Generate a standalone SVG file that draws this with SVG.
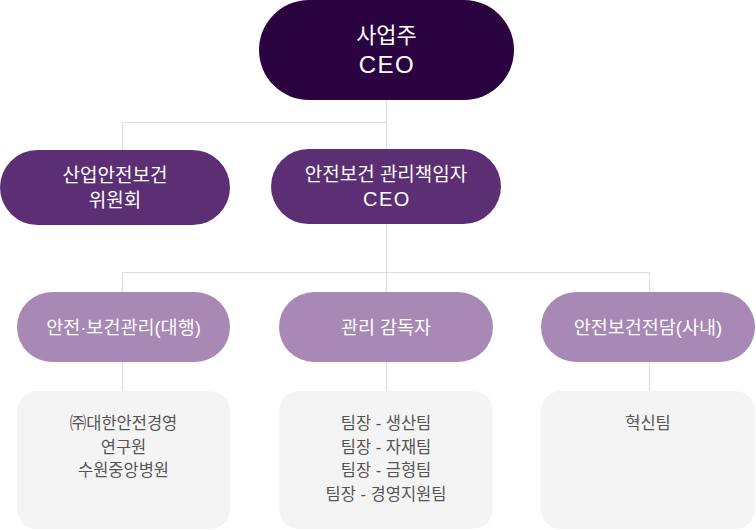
<svg xmlns="http://www.w3.org/2000/svg" width="756" height="530" viewBox="0 0 756 530">
<style>
text{font-family:"Liberation Sans","Noto Sans CJK KR",sans-serif;text-anchor:middle;dominant-baseline:central}
.t1{fill:#fff;font-size:22px}
.t2{fill:#fff;font-size:19px}
.t3{fill:#fff;font-size:18.5px}
.t4{fill:#555;font-size:16.5px}
.e1{font-size:24px;letter-spacing:1.5px}
.e2{font-size:20px;letter-spacing:1.5px}
.c{stroke:#dcdcdc;stroke-width:1;fill:none}
.n1{fill:#2a0340}
.n2{fill:#5c2f75}
.n3{fill:#a888b5}
.n4{fill:#f4f4f4}
</style>
<g id="connectors">
<path class="c" d="M386.5 100V122.5H122.5V150M386.5 122.5V149"/>
<path class="c" d="M386.5 224V272.5H122.5V292M386.5 272.5H649.5V292M386.5 272.5V292"/>
<path class="c" d="M122.5 362V391M386.5 362V391M649.5 362V391"/>
</g>
<g id="ceo">
<rect class="n1" x="259" y="0" width="255" height="100" rx="50"/>
<text class="t1" x="386.5" y="35">사업주</text>
<text class="t1 e1" x="387" y="64">CEO</text>
</g>
<g id="committee">
<rect class="n2" x="0" y="150" width="230" height="75" rx="37.5"/>
<text class="t2" x="115" y="175">산업안전보건</text>
<text class="t2" x="115" y="200">위원회</text>
</g>
<g id="manager">
<rect class="n2" x="271" y="149" width="230" height="75" rx="37.5"/>
<text class="t2" x="386" y="174">안전보건 관리책임자</text>
<text class="t2 e2" x="387" y="199">CEO</text>
</g>
<g id="agency">
<rect class="n3" x="17" y="292" width="213" height="70" rx="35"/>
<text class="t3" x="123.5" y="327">안전·보건관리(대행)</text>
</g>
<g id="supervisor">
<rect class="n3" x="279" y="292" width="214" height="70" rx="35"/>
<text class="t3" x="386" y="327">관리 감독자</text>
</g>
<g id="inhouse">
<rect class="n3" x="541" y="292" width="214" height="70" rx="35"/>
<text class="t3" x="648" y="327">안전보건전담(사내)</text>
</g>
<g id="agency-detail">
<rect class="n4" x="17" y="391" width="213" height="138" rx="20"/>
<text class="t4" x="123.5" y="423">㈜대한안전경영</text>
<text class="t4" x="123.5" y="447">연구원</text>
<text class="t4" x="123.5" y="470">수원중앙병원</text>
</g>
<g id="supervisor-detail">
<rect class="n4" x="279" y="391" width="214" height="138" rx="20"/>
<text class="t4" x="386" y="423">팀장 - 생산팀</text>
<text class="t4" x="386" y="447">팀장 - 자재팀</text>
<text class="t4" x="386" y="470">팀장 - 금형팀</text>
<text class="t4" x="386" y="494">팀장 - 경영지원팀</text>
</g>
<g id="inhouse-detail">
<rect class="n4" x="541" y="391" width="214" height="138" rx="20"/>
<text class="t4" x="648" y="423">혁신팀</text>
</g>
</svg>
